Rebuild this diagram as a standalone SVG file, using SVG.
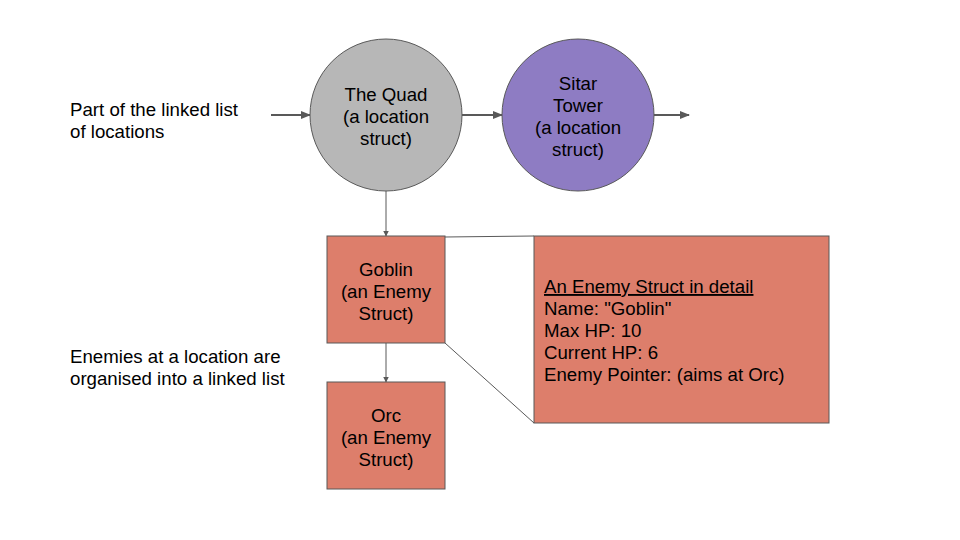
<svg xmlns="http://www.w3.org/2000/svg" width="960" height="540" viewBox="0 0 960 540">
<defs>
<marker id="ah" markerWidth="10" markerHeight="8" refX="9" refY="4" orient="auto" markerUnits="userSpaceOnUse">
<path d="M0,0 L10,4 L0,8 z" fill="#595959"/>
</marker>
<marker id="ahs" markerWidth="6" markerHeight="6" refX="5.5" refY="3" orient="auto" markerUnits="userSpaceOnUse">
<path d="M0,0 L6,3 L0,6 z" fill="#595959"/>
</marker>
<style>
text{font-family:"Liberation Sans",Arial,sans-serif;font-size:18.67px;fill:#000}
.c{text-anchor:middle}
.node{stroke:#595959;stroke-width:1}
.conn line{stroke:#595959;fill:none}
</style>
</defs>
<rect width="960" height="540" fill="#fff"/>
<g class="conn">
<line x1="271" y1="115" x2="310" y2="115" stroke-width="2" marker-end="url(#ah)"/>
<line x1="462" y1="115" x2="502" y2="115" stroke-width="2" marker-end="url(#ah)"/>
<line x1="654" y1="115" x2="689" y2="115" stroke-width="2" marker-end="url(#ah)"/>
<line x1="386" y1="191" x2="386" y2="236" stroke-width="1" marker-end="url(#ahs)"/>
<line x1="386" y1="343" x2="386" y2="382" stroke-width="1" marker-end="url(#ahs)"/>
<line x1="445" y1="237" x2="534" y2="236" stroke-width="1"/>
<line x1="445" y1="343" x2="534" y2="423" stroke-width="1"/>
</g>
<g id="quad">
<circle class="node" cx="386" cy="115" r="76" fill="#b7b7b7"/>
<text class="c" x="386" y="101">The Quad</text>
<text class="c" x="386" y="123">(a location</text>
<text class="c" x="386" y="145">struct)</text>
</g>
<g id="sitar">
<circle class="node" cx="578" cy="115" r="76" fill="#8e7cc3"/>
<text class="c" x="578" y="90">Sitar</text>
<text class="c" x="578" y="112">Tower</text>
<text class="c" x="578" y="134">(a location</text>
<text class="c" x="578" y="156">struct)</text>
</g>
<g id="goblin">
<rect class="node" x="327" y="236" width="118" height="107" fill="#dd7e6b"/>
<text class="c" x="386" y="276">Goblin</text>
<text class="c" x="386" y="298">(an Enemy</text>
<text class="c" x="386" y="320">Struct)</text>
</g>
<g id="orc">
<rect class="node" x="327" y="382" width="118" height="107" fill="#dd7e6b"/>
<text class="c" x="386" y="422">Orc</text>
<text class="c" x="386" y="444">(an Enemy</text>
<text class="c" x="386" y="466">Struct)</text>
</g>
<g id="detail">
<rect class="node" x="534" y="236" width="295" height="187" fill="#dd7e6b"/>
<text x="544" y="293" text-decoration="underline">An Enemy Struct in detail</text>
<text x="544" y="315">Name: "Goblin"</text>
<text x="544" y="337">Max HP: 10</text>
<text x="544" y="359">Current HP: 6</text>
<text x="544" y="381">Enemy Pointer: (aims at Orc)</text>
</g>
<g id="label-locations">
<text x="70" y="116">Part of the linked list</text>
<text x="70" y="138">of locations</text>
</g>
<g id="label-enemies">
<text x="70" y="363">Enemies at a location are</text>
<text x="70" y="385">organised into a linked list</text>
</g>
</svg>
